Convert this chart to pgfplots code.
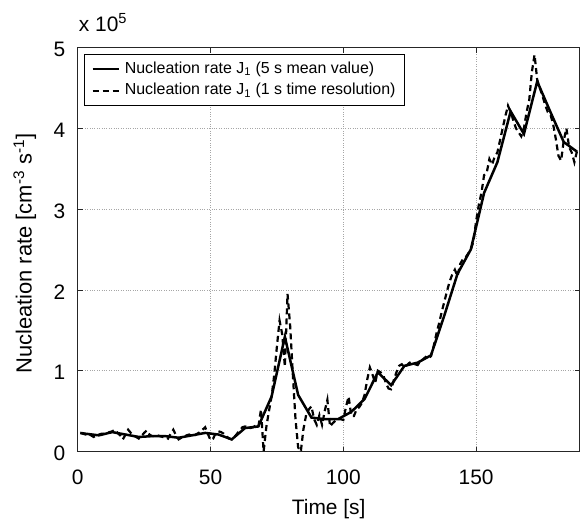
\documentclass[border=0pt]{standalone}
\usepackage{fontspec}
\setmainfont{Liberation Sans}
\usepackage{pgfplots}
\pgfplotsset{compat=1.18}

% 5 s mean values (x in s, y in 10^5 cm^-3 s^-1)
\pgfplotstableread{
t J
1 0.23
3 0.22
8 0.20
13 0.24
18 0.21
23 0.18
28 0.19
33 0.19
38 0.17
43 0.20
48 0.23
53 0.21
58 0.15
63 0.29
68 0.31
73 0.68
78 1.42
83 0.70
88 0.42
93 0.40
98 0.40
103 0.49
108 0.65
113 0.98
118 0.82
123 1.06
128 1.10
133 1.19
138 1.68
143 2.20
148 2.50
153 3.20
158 3.58
163 4.21
168 3.93
173 4.58
178 4.20
183 3.83
188 3.71
}\meanJ

% 1 s resolution
\pgfplotstableread{
t J
1 0.23
2 0.22
3 0.21
4 0.22
5 0.20
6 0.18
7 0.20
8 0.21
9 0.22
10 0.22
11 0.23
12 0.24
13 0.25
14 0.27
15 0.23
16 0.20
17 0.15
18 0.21
19 0.27
20 0.23
21 0.20
22 0.18
23 0.16
24 0.19
25 0.23
26 0.26
27 0.21
28 0.19
29 0.19
30 0.20
31 0.19
32 0.18
33 0.18
34 0.16
35 0.22
36 0.27
37 0.20
38 0.15
39 0.17
40 0.18
41 0.20
42 0.21
43 0.19
44 0.20
45 0.22
46 0.24
47 0.27
48 0.30
49 0.22
50 0.14
51 0.16
52 0.23
53 0.25
54 0.24
55 0.22
56 0.19
57 0.16
58 0.15
59 0.18
60 0.22
61 0.26
62 0.30
63 0.31
64 0.30
65 0.29
66 0.30
67 0.32
68 0.30
69 0.52
70 0.00
71 0.30
72 0.50
73 0.68
74 0.95
75 1.30
76 1.62
77 1.45
78 1.05
79 1.95
80 1.55
81 0.95
82 0.40
83 0.05
84 0.00
85 0.28
86 0.45
87 0.52
88 0.56
89 0.40
90 0.33
91 0.45
92 0.33
93 0.50
94 0.64
95 0.31
96 0.35
97 0.38
98 0.40
99 0.40
100 0.39
101 0.55
102 0.68
103 0.44
104 0.44
105 0.52
106 0.55
107 0.60
108 0.70
109 0.89
110 1.04
111 0.95
112 0.85
113 1.00
114 0.98
115 0.95
116 0.85
117 0.78
118 0.77
119 0.88
120 0.98
121 1.06
122 1.08
123 1.04
124 1.07
125 1.10
126 1.09
127 1.08
128 1.07
129 1.12
130 1.14
131 1.17
132 1.15
133 1.18
134 1.30
135 1.45
136 1.58
137 1.72
138 1.85
139 1.98
140 2.10
141 2.19
142 2.25
143 2.17
144 2.32
145 2.38
146 2.40
147 2.45
148 2.50
149 2.60
150 2.85
151 3.05
152 3.20
153 3.42
154 3.45
155 3.62
156 3.55
157 3.65
158 3.70
159 3.85
160 4.00
161 4.15
162 4.28
163 4.20
164 4.10
165 4.00
166 3.95
167 3.90
168 4.00
169 4.20
170 4.35
171 4.70
172 4.91
173 4.60
174 4.50
175 4.40
176 4.29
177 4.20
178 4.17
179 4.05
180 3.87
181 3.66
182 3.60
183 3.85
184 4.00
185 3.77
186 3.70
187 3.58
188 3.72
189 3.75
}\fineJ

\begin{document}
\begin{tikzpicture}
\begin{axis}[
  at={(0,0)}, anchor=south west,
  scale only axis,
  width=502bp, height=404bp,
  xmin=0, xmax=189,
  ymin=0, ymax=5,
  xtick={0,50,100,150},
  ytick={0,1,2,3,4,5},
  tick align=inside,
  major tick length=5bp,
  xtick pos=both, ytick pos=both,
  grid=major,
  grid style={dotted, gray!70, line width=0.6bp},
  axis line style={line width=1bp, black!85},
  every tick/.style={black!85, line width=0.8bp},
  tick label style={font=\fontsize{21}{24}\selectfont},
  /pgf/number format/assume math mode=true,
  x tick label style={anchor=base, yshift=-33bp},
  y tick label style={anchor=east, xshift=-9bp, yshift=-2bp},
  xlabel={Time [s]},
  ylabel={Nucleation rate [cm\textsuperscript{-3} s\textsuperscript{-1}]},
  every axis x label/.style={at={(axis description cs:0.5,-0.156)}, anchor=base,
    font=\fontsize{21}{24}\selectfont},
  every axis y label/.style={at={(axis description cs:-0.0916,0.49)}, anchor=base, rotate=90,
    font=\fontsize{22}{26}\selectfont},
  legend style={at={(axis description cs:0.0133,0.983)}, anchor=north west,
    draw=black, line width=0.8bp, font=\fontsize{16}{19}\selectfont,
    inner xsep=6.5bp, inner ysep=3.5bp, column sep=3bp,
    nodes={text height=11.5bp, text depth=3.5bp, inner ysep=3.3bp},
    cells={anchor=west}},
  legend image code/.code={\draw[#1] (0bp,0bp) -- (26bp,0bp);},
]
\addplot[black, line width=2.5bp] table[x=t, y=J] {\meanJ};
\addlegendentry{Nucleation rate J\textsubscript{1} (5 s mean value)}
\addplot[black, line width=2.2bp, dash pattern=on 6bp off 4bp] table[x=t, y=J] {\fineJ};
\addlegendentry{Nucleation rate J\textsubscript{1} (1 s time resolution)}
\end{axis}
\node[anchor=base west, inner sep=0, font=\fontsize{21}{24}\selectfont] at (1bp,420bp) {x 10\textsuperscript{5}};
\pgfresetboundingbox
\path[use as bounding box] (-77.7bp,-68.3bp) rectangle (503.3bp,451.5bp);
\end{tikzpicture}
\end{document}
